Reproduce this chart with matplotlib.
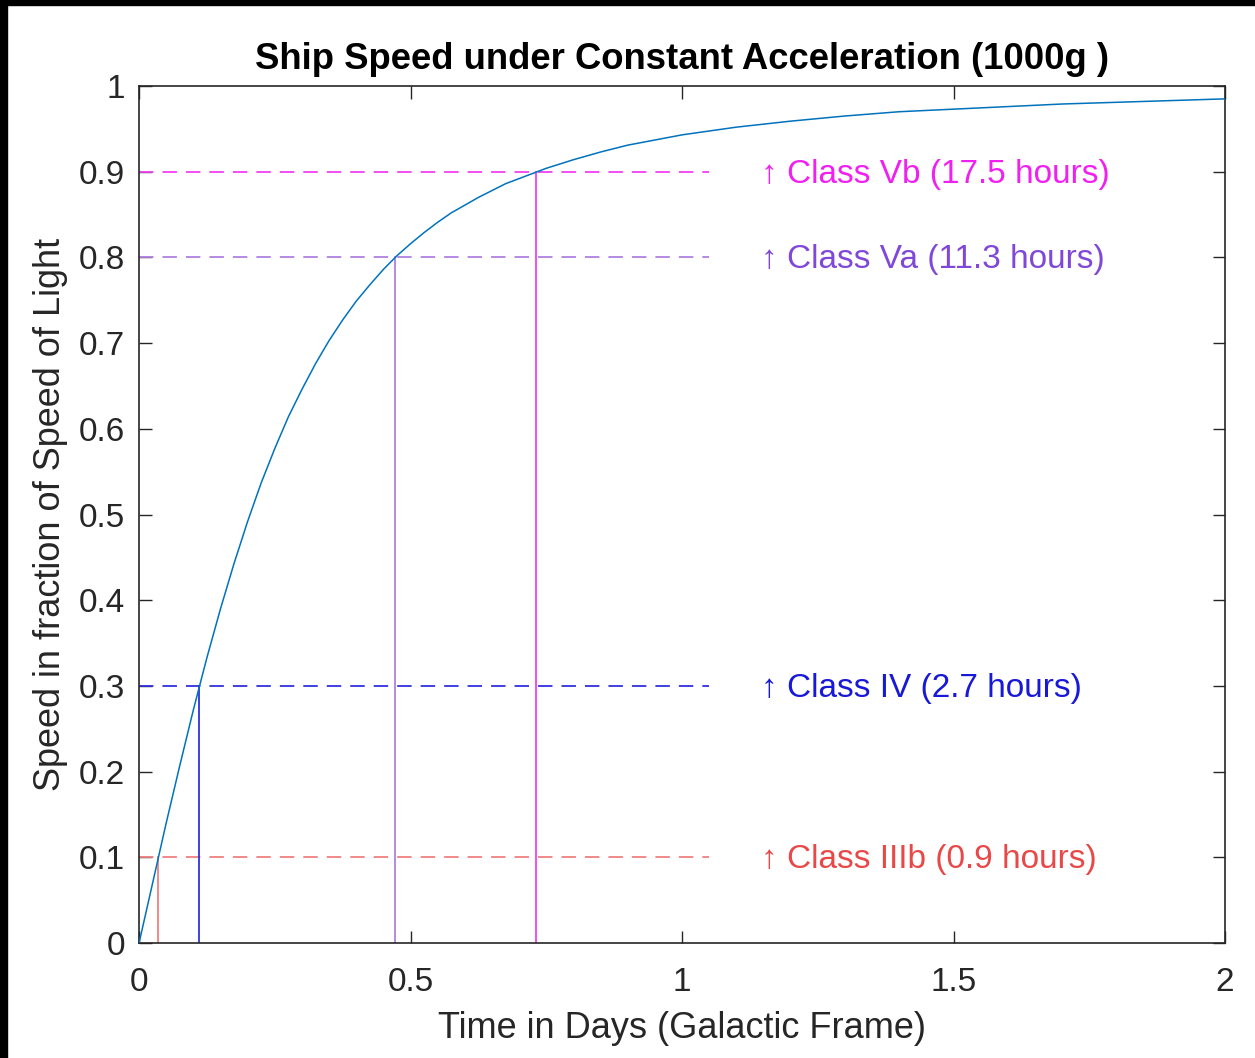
import matplotlib.pyplot as plt
from matplotlib.patches import Rectangle

plt.rcParams['font.family'] = ['Liberation Sans', 'DejaVu Sans']

# speed curve (days, fraction of c)
time_days = [0, 0.025, 0.05, 0.075, 0.1, 0.125, 0.15, 0.175, 0.2, 0.225, 0.25,
             0.275, 0.3, 0.325, 0.35, 0.375, 0.4, 0.425, 0.45, 0.475, 0.5, 0.525,
             0.55, 0.575, 0.6, 0.625, 0.65, 0.675, 0.7, 0.75, 0.8, 0.85, 0.9, 0.95,
             1.0, 1.1, 1.2, 1.3, 1.4, 1.5, 1.6, 1.7, 1.8, 1.9, 2.0]
speed = [0, 0.070, 0.140, 0.207, 0.272, 0.333, 0.390, 0.443, 0.492, 0.537, 0.577,
         0.614, 0.646, 0.676, 0.703, 0.727, 0.749, 0.768, 0.786, 0.802, 0.816, 0.829,
         0.841, 0.852, 0.861, 0.870, 0.878, 0.886, 0.892, 0.904, 0.914, 0.923, 0.931, 0.937,
         0.943, 0.952, 0.959, 0.965, 0.970, 0.973, 0.976, 0.979, 0.981, 0.983, 0.985]

# class thresholds
class_labels = ['Class IIIb (0.9 hours)', 'Class IV (2.7 hours)',
                'Class Va (11.3 hours)', 'Class Vb (17.5 hours)']
class_speed = [0.1, 0.3, 0.8, 0.9]
class_time = [0.0355, 0.111, 0.472, 0.731]
line_colors = ['#f08080', '#3030e0', '#b080e0', '#f040f0']
text_colors = ['#e84848', '#1818d8', '#8048d8', '#f020f0']

fig = plt.figure(figsize=(12.55, 10.58), dpi=100)
ax = fig.add_axes([0.1108, 0.1087, 0.8653, 0.81])

ax.plot(time_days, speed, color='#0072BD', lw=1.1, zorder=3)

for lab, v, t, lc, tc in zip(class_labels, class_speed, class_time, line_colors, text_colors):
    ax.plot([0, 1.05], [v, v], color=lc, lw=1.3, dashes=(8, 5))
    ax.plot([t, t], [0, v], color=lc, lw=1.3)
    ax.text(1.145, v - 0.003, '\u2191 ' + lab, color=tc, fontsize=24, va='center', ha='left',
            bbox=dict(facecolor='white', edgecolor='none', pad=1))

ax.set_xlim(0, 2)
ax.set_ylim(0, 1)
ax.set_xticks([0, 0.5, 1, 1.5, 2])
ax.set_xticklabels(['0', '0.5', '1', '1.5', '2'])
ax.set_yticks([i / 10 for i in range(11)])
ax.set_yticklabels(['0', '0.1', '0.2', '0.3', '0.4', '0.5', '0.6', '0.7', '0.8', '0.9', '1'])
ax.tick_params(direction='in', length=9, width=1, top=True, right=True,
               labelsize=24, colors='#262626', pad=10)
ax.tick_params(axis='x', pad=17)
for s in ax.spines.values():
    s.set_color('#262626')
    s.set_linewidth(1.2)

ax.set_xlabel('Time in Days (Galactic Frame)', fontsize=26, color='#262626', labelpad=10)
ax.set_ylabel('Speed in fraction of Speed of Light', fontsize=26, color='#262626', labelpad=8)
ax.set_title('Ship Speed under Constant Acceleration (1000g )', fontsize=26.3,
             fontweight='bold', pad=12)

# black frame at top and left edges of the screenshot
fig.patches.append(Rectangle((0, 0.995), 1, 0.005, transform=fig.transFigure,
                             color='black', zorder=10))
fig.patches.append(Rectangle((0, 0), 0.0055, 1, transform=fig.transFigure,
                             color='black', zorder=10))

fig.savefig('out.png', dpi=100)
